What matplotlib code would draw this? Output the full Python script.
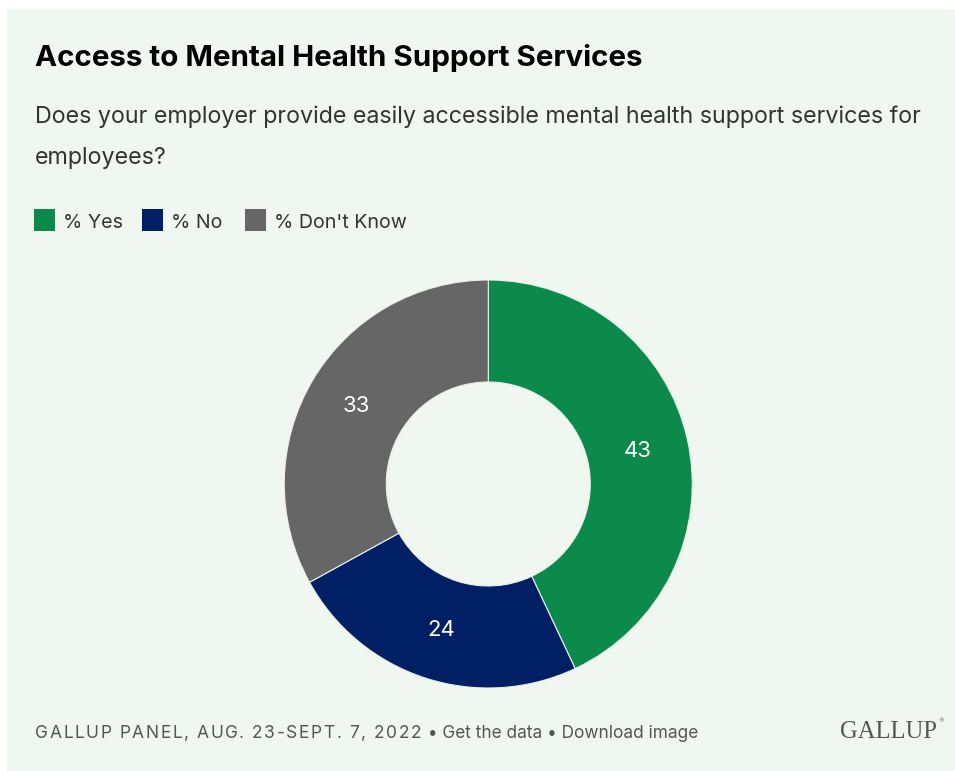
import matplotlib
matplotlib.use("Agg")
import matplotlib.pyplot as plt
from matplotlib.patches import Rectangle

# Survey results
categories = ["% Yes", "% No", "% Don't Know"]
values = [43, 24, 33]
colors = ["#0b8a4b", "#001f65", "#666666"]

title = "Access to Mental Health Support Services"
subtitle_lines = [
    "Does your employer provide easily accessible mental health support services for",
    "employees?",
]
source = "GALLUP PANEL, AUG. 23-SEPT. 7, 2022"
links = " \u2022 Get the data \u2022 Download image"
brand = "GALLUP"

W, H = 955, 771
BG = "#f0f7f0"

fig = plt.figure(figsize=(W / 100, H / 100), dpi=100)
fig.patch.set_facecolor("white")
fig.add_artist(Rectangle((7 / W, 0), 1 - 7 / W, 1 - 9 / H, transform=fig.transFigure,
                         facecolor=BG, edgecolor="none", zorder=0))

renderer = fig.canvas.get_renderer()


def ptext(x, y, s, **kw):
    return fig.text(x / W, 1 - y / H, s, **kw)


def fit_text(x, y, s, width, size, **kw):
    t = ptext(x, y, s, fontsize=size, **kw)
    w = t.get_window_extent(renderer).width
    t.set_fontsize(size * width / w)
    return t


def spaced_text(x, y, s, spacing, **kw):
    for ch in s:
        t = ptext(x, y, ch, **kw)
        x += t.get_window_extent(renderer).width + spacing
    return x


# Header
fit_text(35, 66, title, 608, 21, family="Inter", weight="bold", color="#000000", va="baseline")
sub_kw = dict(family="Inter", color="#333333", va="baseline")
t0 = fit_text(35, 123, subtitle_lines[0], 890, 17, **sub_kw)
ptext(35, 164, subtitle_lines[1], fontsize=t0.get_fontsize(), **sub_kw)

# Legend
leg_x = [34, 142, 245]
leg_kw = dict(family="Inter", color="#333333", va="baseline")
probe = fit_text(0, -100, categories[-1], 133, 15, **leg_kw)
leg_size = probe.get_fontsize()
probe.remove()
for lx, lab, col in zip(leg_x, categories, colors):
    fig.add_artist(Rectangle((lx / W, 1 - 231 / H), 21 / W, 22 / H, transform=fig.transFigure,
                             facecolor=col, edgecolor="none"))
    ptext(lx + 29, 228, lab, fontsize=leg_size, **leg_kw)

# Donut
cx, cy, R = 488.3, 484, 204
half = 1.1 * R
ax = fig.add_axes([(cx - half) / W, (H - cy - half) / H, 2 * half / W, 2 * half / H])
ax.set_facecolor("none")
wedges, _, autotexts = ax.pie(
    values, colors=colors, startangle=90, counterclock=False, radius=1,
    autopct=lambda p: f"{p:.0f}", pctdistance=0.75,
    wedgeprops=dict(width=0.5, edgecolor="#e8f0e8", linewidth=0.8),
    textprops=dict(color="white", fontsize=16, family="Inter"),
)
ax.set_xlim(-1.1, 1.1)
ax.set_ylim(-1.1, 1.1)
ax.set_aspect("equal")
ax.axis("off")

# Footer
foot_kw = dict(family="Inter", color="#555555", va="baseline", fontsize=12.5)
end = spaced_text(35, 738, source, 1.6, **foot_kw)
fit_text(end, 738, links, 697 - end, 12.5, family="Inter", color="#555555", va="baseline")
fit_text(840, 738, brand, 97, 18, family="Liberation Serif", color="#555555", va="baseline")
ptext(938, 722, "\u00ae", fontsize=4, family="DejaVu Sans", color="#555555", va="baseline")

fig.savefig("out.png", dpi=100, facecolor=fig.get_facecolor())
